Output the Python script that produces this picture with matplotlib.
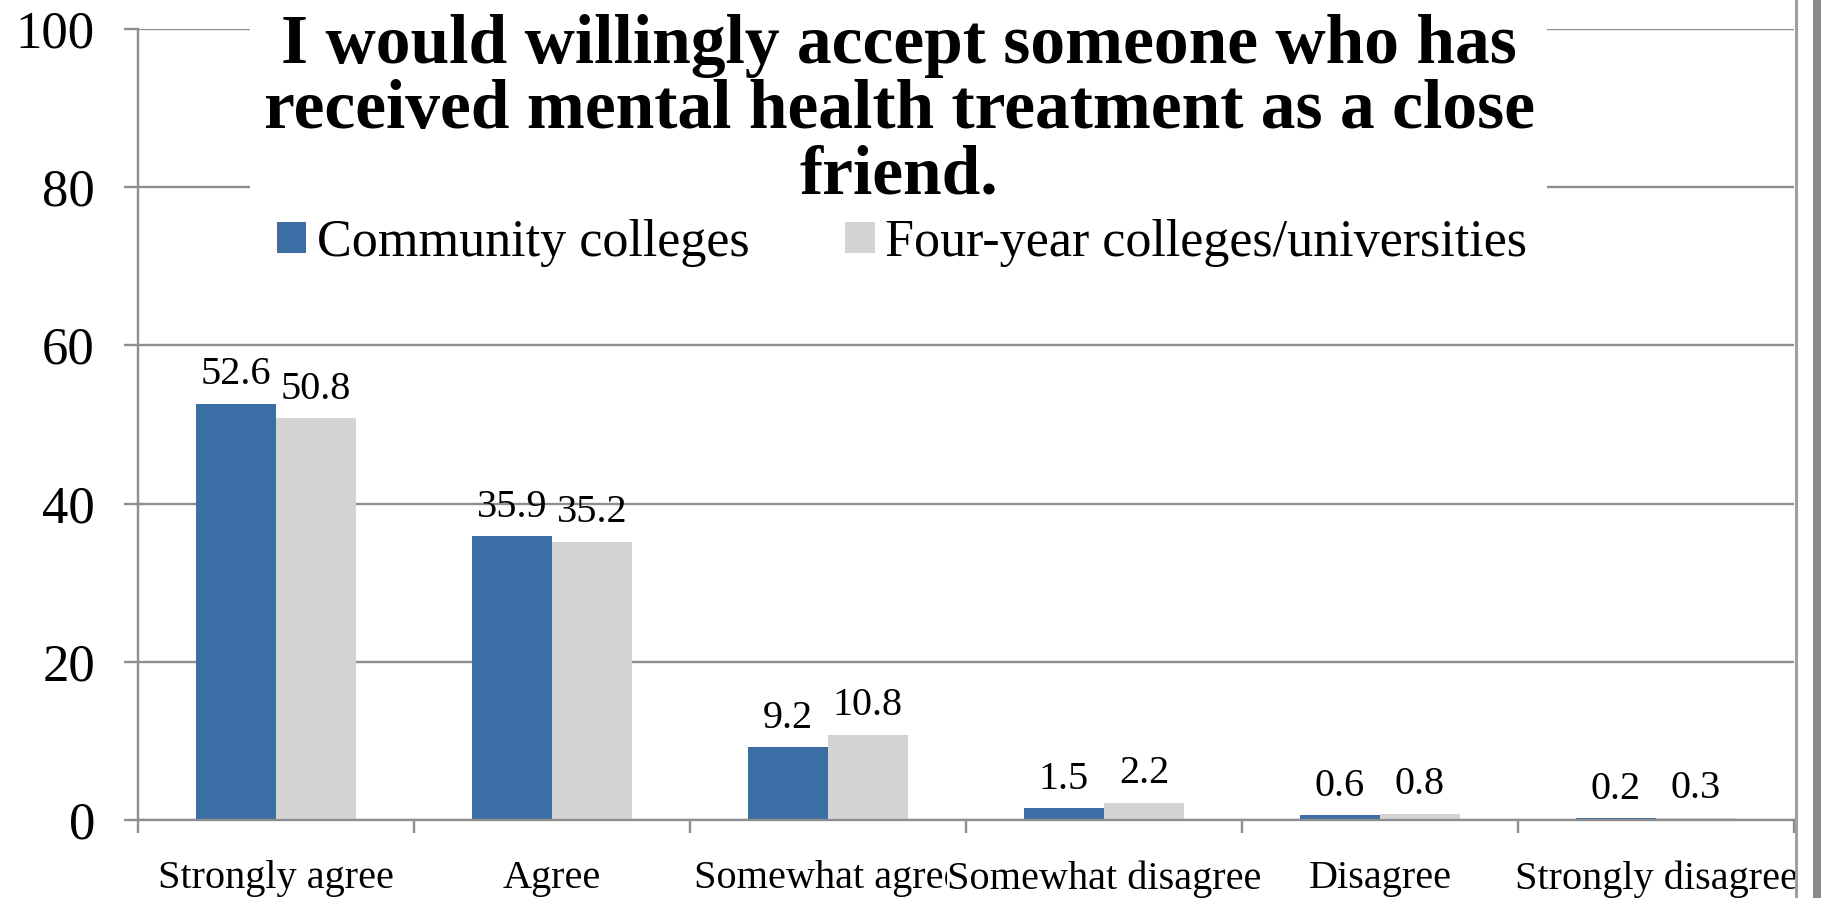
import matplotlib.pyplot as plt
import numpy as np
from matplotlib.patches import Rectangle, Patch
from matplotlib.lines import Line2D

# survey answers, percent of respondents
categories = ['Strongly agree', 'Agree', 'Somewhat agree',
              'Somewhat disagree', 'Disagree', 'Strongly disagree']
community = [52.6, 35.9, 9.2, 1.5, 0.6, 0.2]
four_year = [50.8, 35.2, 10.8, 2.2, 0.8, 0.3]
series_names = ['Community colleges', 'Four-year colleges/universities']
title_lines = ['I would willingly accept someone who has',
               'received mental health treatment as a close',
               'friend.']
yticks = [0, 20, 40, 60, 80, 100]

blue = '#3a6ea5'
grey = '#d3d3d3'
line_grey = '#8e8e8e'

plt.rcParams['font.family'] = ['Liberation Serif', 'DejaVu Serif']

W, H = 1821, 898
fig = plt.figure(figsize=(W / 100, H / 100), dpi=100)
ax = fig.add_axes([138 / W, 1 - 820 / H, (1794 - 138) / W, (820 - 29) / H])

x = np.arange(len(categories))
bw = 0.29
b1 = ax.bar(x - bw / 2, community, bw, color=blue, zorder=3)
b2 = ax.bar(x + bw / 2, four_year, bw, color=grey, zorder=3)

for bars, vals in ((b1, community), (b2, four_year)):
    for bar, v in zip(bars, vals):
        ax.annotate(f'{v}', (bar.get_x() + bar.get_width() / 2, v),
                    xytext=(0, 14), textcoords='offset points',
                    ha='center', va='baseline', fontsize=29)

ax.set_xlim(-0.5, len(categories) - 0.5)
ax.set_ylim(0, 100)
ax.set_yticks(yticks)
ax.set_xticks(x)
ax.set_xticks(np.arange(-0.5, len(categories)), minor=True)
ax.set_xticklabels(categories, fontsize=29)
for lab in ax.get_xticklabels():
    lab.set_bbox(dict(facecolor='white', edgecolor='none', pad=0))

ax.tick_params(axis='x', which='major', length=0, pad=29)
ax.tick_params(axis='x', which='minor', length=9, width=1.7, color=line_grey)
ax.tick_params(axis='y', length=10, width=1.7, color=line_grey,
               labelsize=38, pad=21)
ax.yaxis.grid(True, color=line_grey, linewidth=1.7)
ax.set_axisbelow(True)

for side in ('top', 'right'):
    ax.spines[side].set_visible(False)
for side in ('left', 'bottom'):
    ax.spines[side].set_color(line_grey)
    ax.spines[side].set_linewidth(1.7)
    ax.spines[side].set_zorder(4)

# white panel behind the title
fig.patches.append(Rectangle((250 / W, 1 - 212 / H), (1547 - 250) / W, 212 / H,
                             transform=fig.transFigure, facecolor='white',
                             edgecolor='none', zorder=1))
for line, base in zip(title_lines, [63, 128, 193]):
    fig.text(899 / W, 1 - base / H, line, ha='center', va='baseline',
             fontsize=50, fontweight='bold', zorder=3)

handles = [Patch(facecolor=blue), Patch(facecolor=grey)]
fig.legend(handles, series_names, loc='center', ncol=2,
           bbox_to_anchor=(902 / W, 1 - 243 / H), frameon=False,
           fontsize=37.5, handlelength=0.56, handleheight=0.56,
           handletextpad=0.2, columnspacing=1.85, borderpad=0)

# frame lines on the right side
fig.add_artist(Line2D([1795.5 / W] * 2, [0, 1], transform=fig.transFigure,
                      color='#a0a0a0', linewidth=2.2))
fig.patches.append(Rectangle((1813 / W, 0), 8 / W, 1, transform=fig.transFigure,
                             facecolor='#8a8a8a', edgecolor='none'))

fig.savefig('out.png', dpi=100)
